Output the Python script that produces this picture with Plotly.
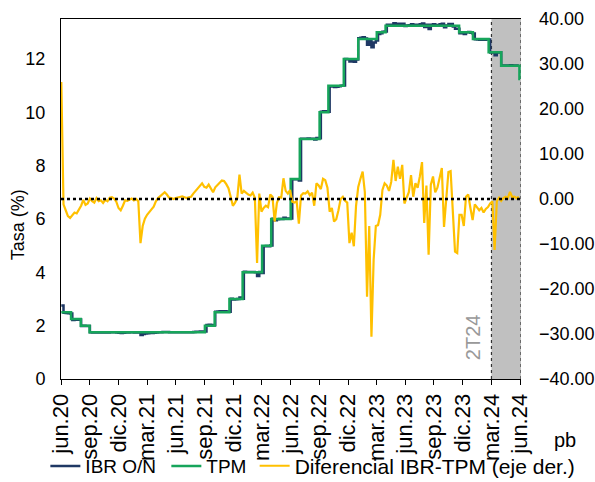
import pandas as pd
import plotly.graph_objects as go

# ---------------- data ----------------
# Differential IBR - TPM (basis points), weekly readings starting 2020-07-01
diff_start = "2020-07-01"
diff_bp = [
    26, -1.2, -2.5, -3.8, -4.2, -3.5, -3.0, -3.2, -2.3, -1.5,
    -0.2, -1.3, -1.0, 0.1, -0.5, -0.8, 0.2, -0.5, -0.3, -0.9,
    -0.2, -0.5, 0.3, 0.4, 0.1, -0.6, -2.0, -2.5, -1.5, -0.3,
    -0.4, -0.1, 0.1, -0.3, 0.0, -0.5, -9.8, -6.0, -4.4, -3.5,
    -2.8, -2.3, -1.7, -0.5, 0.2, 0.6, 0.9, 1.5, 1.0, 0.3,
    0.2, 0.0, 0.2, 0.3, 0.5, 0.6, 0.4, 0.2, 0.4, 0.5,
    1.2, 1.8, 2.4, 2.8, 3.5, 2.7, 2.5, 3.2, 2.4, 1.5,
    2.6, 3.0, 3.6, 4.1, 4.0, 3.3, 2.4, 0.5, -1.5, -0.8,
    0.2, 5.4, 1.2, 1.8, 1.3, 1.0, 0.8, 1.4, 0.3, -14.2,
    1.2, -2.8, -2.0, -1.5, -1.8, 1.0, 0.5, -5.0, -0.9, 0.4,
    0.3, 4.6, 1.8, 1.2, 2.0, -0.6, -0.8, -0.5, -5.5, 0.8,
    1.3, 1.2, 1.7, 0.8, 1.4, -1.5, 3.5, 3.0, 2.2, 4.5,
    4.2, 2.5, -2.8, -2.0, -5.0, -4.5, -2.5, 0.0, 0.5, -0.4,
    -0.8, -9.8, -7.5, -10.5, -1.5, 2.7, 4.5, 6.1, 1.5, -21.7,
    -6.0, -30.6, -13.5, -6.0, -5.8, -3.5, 2.0, 3.5, 3.0, 1.8,
    3.8, 8.7, 4.0, 7.2, 4.5, 7.6, -1.0, 0.5, 1.5, 5.3,
    0.5, 3.5, 2.5, 5.0, 8.2, -5.3, 3.0, -12.4, 3.2, 5.0,
    1.5, 2.5, 5.0, 6.9, -6.2, 0.8, 6.0, 6.2, -3.0, -11.7,
    -12.0, -3.5, -3.5, -6.0, 0.5, 1.0, -2.0, -4.7, -1.2, -1.8,
    -2.5, -2.0, -3.0, -2.2, -1.8, -1.0, -0.5, -11.3, -0.5, 0.3,
    -0.4, 0.2, 0.5, 0.2, 1.6, 0.4, 0.5, 0.2, 0.5,
]
diff_dates = pd.date_range(diff_start, periods=len(diff_bp), freq="7D")

# Policy rate (TPM, %) - dates on which each level takes effect
tpm_dates = [
    "2020-07-01", "2020-08-01", "2020-09-01", "2020-09-29", "2021-10-01",
    "2021-11-01", "2021-12-18", "2022-01-29", "2022-04-01", "2022-04-30",
    "2022-07-01", "2022-07-30", "2022-10-01", "2022-10-29", "2022-12-17",
    "2023-02-01", "2023-04-01", "2023-04-29", "2023-12-19", "2024-02-01",
    "2024-03-22", "2024-05-01", "2024-06-28", "2024-06-30",
]
tpm_vals = [
    2.50, 2.25, 2.00, 1.75, 2.00,
    2.50, 3.00, 4.00, 5.00, 6.00,
    7.50, 9.00, 10.00, 11.00, 12.00,
    12.75, 13.00, 13.25, 13.00, 12.75,
    12.25, 11.75, 11.25, 11.25,
]

# IBR overnight = TPM + differential
tpm_series = pd.Series(tpm_vals, index=pd.to_datetime(tpm_dates))
ibr_vals = [tpm_series.asof(d) + v / 100.0 for d, v in zip(diff_dates, diff_bp)]

tick_dates = [
    "2020-06-30", "2020-09-30", "2020-12-31", "2021-03-31", "2021-06-30",
    "2021-09-30", "2021-12-31", "2022-03-31", "2022-06-30", "2022-09-30",
    "2022-12-31", "2023-03-31", "2023-06-30", "2023-09-30", "2023-12-31",
    "2024-03-31", "2024-06-30",
]
tick_labels = [
    "jun.20", "sep.20", "dic.20", "mar.21", "jun.21", "sep.21", "dic.21",
    "mar.22", "jun.22", "sep.22", "dic.22", "mar.23", "jun.23", "sep.23",
    "dic.23", "mar.24", "jun.24",
]
left_ticks = [0, 2, 4, 6, 8, 10, 12]
right_ticks = [-40, -30, -20, -10, 0, 10, 20, 30, 40]

shade_start = "2024-03-31"
x_range = ["2020-06-30", "2024-07-03"]

# ---------------- figure ----------------
FONT = "Liberation Sans, Arial, sans-serif"
fig = go.Figure()

fig.add_trace(go.Scatter(
    x=diff_dates, y=ibr_vals, name="IBR O/N", mode="lines", showlegend=True,
    line=dict(color="#1F3864", width=2.5, shape="hv"), legend="legend",
))
fig.add_trace(go.Scatter(
    x=tpm_dates, y=tpm_vals, name="TPM", mode="lines", showlegend=True,
    line=dict(color="#17A55B", width=2.5, shape="hv"), legend="legend2",
))
fig.add_trace(go.Scatter(
    x=diff_dates, y=diff_bp, name="Diferencial IBR-TPM (eje der.)", mode="lines",
    showlegend=True,
    line=dict(color="#FFC000", width=2.2), yaxis="y2", legend="legend3",
))

# shaded forecast quarter
fig.add_shape(type="rect", xref="x", yref="paper", x0=shade_start, x1=x_range[1],
              y0=0, y1=1, fillcolor="#C0C0C0", line=dict(width=0), layer="below")
for xv in [shade_start, x_range[1]]:
    fig.add_shape(type="line", xref="x", yref="paper", x0=xv, x1=xv, y0=0, y1=1,
                  line=dict(color="#333333", width=1.2, dash="dot"), layer="below")
# zero line of right axis
fig.add_shape(type="line", xref="paper", yref="y2", x0=0, x1=1, y0=0, y1=0,
              line=dict(color="black", width=2.5, dash="dot"), layer="above")

fig.add_annotation(text="2T24", xref="x", yref="paper", x="2024-01-31", y=0.115,
                   xanchor="center", yanchor="middle",
                   textangle=-90, showarrow=False,
                   font=dict(family=FONT, size=20, color="#999999"))
fig.add_annotation(text="Tasa (%)", xref="paper", yref="paper", x=-0.0935, y=0.43,
                   xanchor="center", yanchor="middle",
                   textangle=-90, showarrow=False,
                   font=dict(family=FONT, size=18, color="black"))
fig.add_annotation(text="pb", xref="paper", yref="paper", x=1.096, y=-0.17,
                   xanchor="center", yanchor="middle",
                   showarrow=False, font=dict(family=FONT, size=20, color="black"))

leg_common = dict(orientation="h", yanchor="middle", xanchor="left", y=-0.242,
                  bgcolor="rgba(0,0,0,0)", borderwidth=0)

fig.update_layout(
    width=595, height=482, showlegend=True,
    margin=dict(l=61, r=74, t=19, b=103, autoexpand=False),
    paper_bgcolor="white", plot_bgcolor="white",
    font=dict(family=FONT, color="black"),
    legend=dict(x=-0.034, font=dict(family=FONT, size=19, color="black"), **leg_common),
    legend2=dict(x=0.229, font=dict(family=FONT, size=19, color="black"), **leg_common),
    legend3=dict(x=0.421, font=dict(family=FONT, size=21, color="black"), **leg_common),
    xaxis=dict(
        type="date", range=x_range, tickvals=tick_dates, ticktext=tick_labels,
        tickangle=-90, ticks="outside", ticklen=5, tickcolor="black",
        showline=True, linecolor="black", linewidth=1, mirror=True,
        showgrid=False, zeroline=False,
        tickfont=dict(family=FONT, size=22, color="black"),
    ),
    yaxis=dict(
        range=[0, 13.5], tickvals=left_ticks, showline=True, linecolor="black",
        linewidth=1, showgrid=False, zeroline=False, ticks="",
        ticklabelstandoff=11,
        tickfont=dict(family=FONT, size=18, color="black"),
    ),
    yaxis2=dict(
        overlaying="y", side="right", range=[-40, 40], tickvals=right_ticks,
        tickformat=".2f", showgrid=False, zeroline=False, showline=False,
        ticks="", ticklabelstandoff=17,
        tickfont=dict(family=FONT, size=18, color="black"),
    ),
)

fig.write_html(
    "out.html",
    config={"displayModeBar": False},
    post_script="document.body.style.margin='0';document.body.style.overflow='hidden';",
)
